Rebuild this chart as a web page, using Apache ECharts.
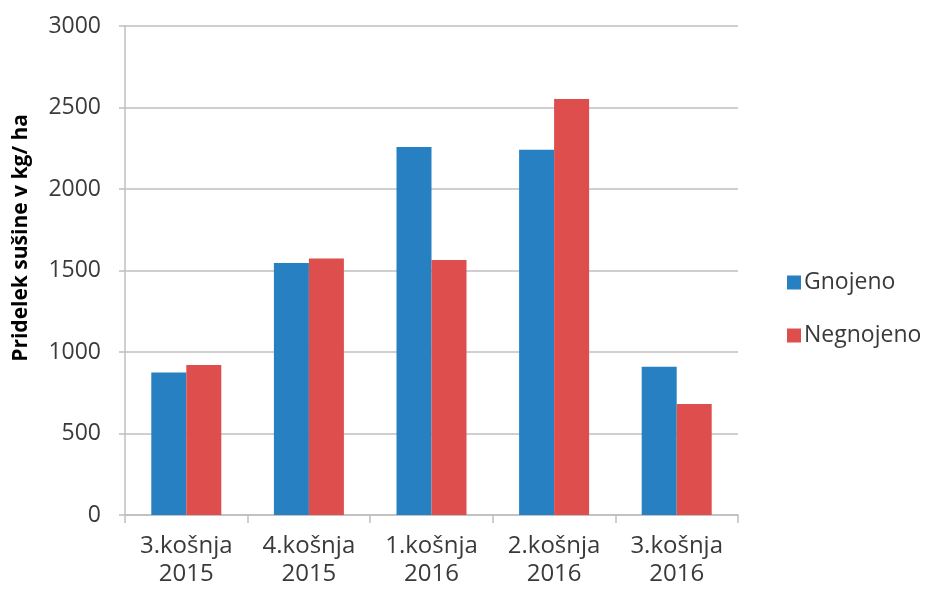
<!DOCTYPE html>
<html>
<head>
<meta charset="utf-8">
<script src="https://cdn.jsdelivr.net/npm/echarts@6/dist/echarts.min.js"></script>
<style>
  html, body { margin: 0; padding: 0; background: #ffffff; }
  #chart { width: 925px; height: 599px; }
</style>
</head>
<body>
<div id="chart"></div>
<script>
// Dry-matter yield per cut, fertilised vs. unfertilised plots
const categories = ['3.košnja\n2015', '4.košnja\n2015', '1.košnja\n2016', '2.košnja\n2016', '3.košnja\n2016'];
const gnojeno = [875, 1546, 2258, 2241, 910];
const negnojeno = [920, 1573, 1564, 2552, 681];
const yTicks = [0, 500, 1000, 1500, 2000, 2500, 3000];
const axisTitle = 'Pridelek sušine v kg/ ha';

const FONT = '"Open Sans", "Liberation Sans", sans-serif';
const TEXT = '#3a3a3a';
const LINE = '#bfbfbf';

const chart = echarts.init(document.getElementById('chart'), null, { renderer: 'canvas' });

chart.setOption({
  animation: false,
  backgroundColor: '#ffffff',
  grid: { left: 125, right: 187, top: 26, bottom: 84, containLabel: false },
  legend: {
    orient: 'vertical',
    left: 782,
    top: 266,
    itemWidth: 14,
    itemHeight: 14,
    itemGap: 30,
    icon: 'rect',
    textStyle: { fontFamily: FONT, fontSize: 23, color: TEXT, lineHeight: 23, padding: [0, 0, 0, -2] },
    data: ['Gnojeno', 'Negnojeno']
  },
  xAxis: {
    type: 'category',
    data: categories,
    axisLine: { show: true, lineStyle: { color: LINE, width: 1.5 } },
    axisTick: { show: true, length: 8, alignWithLabel: false, lineStyle: { color: LINE, width: 1.5 } },
    axisLabel: {
      fontFamily: FONT, fontSize: 24, color: TEXT, lineHeight: 28, margin: 17, interval: 0
    },
    splitLine: { show: false }
  },
  yAxis: {
    type: 'value',
    min: yTicks[0],
    max: yTicks[yTicks.length - 1],
    interval: yTicks[1] - yTicks[0],
    axisLine: { show: true, lineStyle: { color: LINE, width: 1.5 } },
    axisTick: { show: true, length: 6, inside: false, lineStyle: { color: LINE, width: 1.5 } },
    axisLabel: {
      fontFamily: FONT, fontSize: 23, color: TEXT, margin: 24,
      formatter: (v) => String(v)
    },
    splitLine: { show: true, lineStyle: { color: LINE, width: 1.5 } }
  },
  graphic: [{
    type: 'text',
    left: 11,
    top: 114,
    rotation: Math.PI / 2,
    style: {
      text: axisTitle,
      fontFamily: FONT,
      fontWeight: 'bold',
      fontSize: 21,
      fill: '#000000'
    }
  }],
  series: [
    {
      name: 'Gnojeno',
      type: 'bar',
      data: gnojeno,
      barWidth: 35,
      barGap: '0%',
      itemStyle: { color: '#2680c2' }
    },
    {
      name: 'Negnojeno',
      type: 'bar',
      data: negnojeno,
      barWidth: 35,
      barGap: '0%',
      itemStyle: { color: '#dd4e4d' }
    }
  ]
});
</script>
</body>
</html>
